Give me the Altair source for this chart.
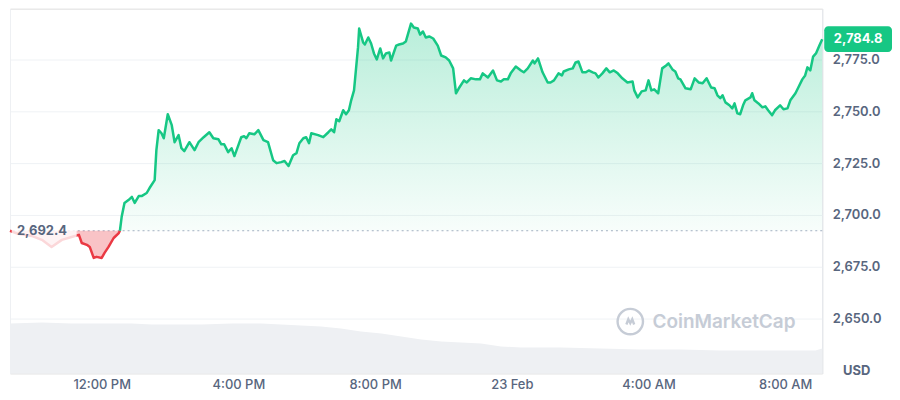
import altair as alt
import pandas as pd

# ---- data (ETH price, 22-23 Feb) ----
times = [
    "22T09:19", "22T09:33", "22T09:57", "22T10:15", "22T10:32", "22T10:50", "22T11:07", "22T11:20",
    "22T11:25", "22T11:34", "22T11:39", "22T11:46", "22T11:51", "22T12:00", "22T12:05", "22T12:12",
    "22T12:21", "22T12:30", "22T12:32",
    "22T12:35", "22T12:40", "22T12:47", "22T12:53", "22T12:58", "22T13:05", "22T13:10", "22T13:19",
    "22T13:24", "22T13:33", "22T13:36", "22T13:40", "22T13:45", "22T13:49", "22T13:56", "22T14:03",
    "22T14:08", "22T14:15", "22T14:20", "22T14:25", "22T14:34", "22T14:43", "22T14:50", "22T14:59",
    "22T15:09", "22T15:16", "22T15:25", "22T15:30", "22T15:35", "22T15:42", "22T15:48", "22T15:53",
    "22T16:00", "22T16:05", "22T16:10", "22T16:14", "22T16:19", "22T16:28", "22T16:35", "22T16:44",
    "22T16:52", "22T17:01", "22T17:07", "22T17:15", "22T17:21", "22T17:28", "22T17:36", "22T17:42",
    "22T17:47", "22T17:54", "22T17:59", "22T18:04", "22T18:08", "22T18:20", "22T18:29", "22T18:38",
    "22T18:43", "22T18:48", "22T18:52", "22T18:57", "22T19:04", "22T19:09", "22T19:14", "22T19:18",
    "22T19:23", "22T19:30", "22T19:32", "22T19:39", "22T19:42", "22T19:48", "22T19:53", "22T19:58",
    "22T20:03", "22T20:09", "22T20:14", "22T20:19", "22T20:25", "22T20:28", "22T20:37", "22T20:42",
    "22T20:49", "22T20:54", "22T21:03", "22T21:08", "22T21:15", "22T21:19", "22T21:24", "22T21:29",
    "22T21:35", "22T21:42", "22T21:50", "22T21:56", "22T22:04", "22T22:10", "22T22:17", "22T22:22",
    "22T22:27", "22T22:36", "22T22:41", "22T22:48", "22T22:57", "22T23:04", "22T23:09", "22T23:18",
    "22T23:27", "22T23:34", "22T23:41", "22T23:46", "22T23:53", "22T23:58",
    "23T00:07", "23T00:16", "23T00:21", "23T00:28", "23T00:37", "23T00:40", "23T00:46", "23T00:54",
    "23T01:03", "23T01:08", "23T01:14", "23T01:22", "23T01:28", "23T01:31", "23T01:40", "23T01:47",
    "23T01:52", "23T01:57", "23T02:04", "23T02:10", "23T02:15", "23T02:22", "23T02:27", "23T02:32",
    "23T02:39", "23T02:46", "23T02:52", "23T02:59", "23T03:06", "23T03:14", "23T03:23", "23T03:32",
    "23T03:35", "23T03:41", "23T03:48", "23T03:55", "23T04:00", "23T04:05", "23T04:10", "23T04:17",
    "23T04:24", "23T04:31", "23T04:35", "23T04:42", "23T04:47", "23T04:52", "23T04:56", "23T05:05",
    "23T05:14", "23T05:21", "23T05:28", "23T05:35", "23T05:42", "23T05:50", "23T05:56", "23T06:01",
    "23T06:06", "23T06:10", "23T06:15", "23T06:22", "23T06:27", "23T06:31", "23T06:36", "23T06:41",
    "23T06:46", "23T06:50", "23T06:59", "23T07:02", "23T07:06", "23T07:13", "23T07:20", "23T07:25",
    "23T07:30", "23T07:37", "23T07:42", "23T07:51", "23T07:57", "23T08:04", "23T08:09", "23T08:18",
    "23T08:23", "23T08:30", "23T08:35", "23T08:39", "23T08:44", "23T08:49", "23T08:54", "23T09:00",
    "23T09:05",
]
prices = [
    2692.4, 2690.9, 2689.9, 2688.0, 2684.6, 2688.0, 2689.4, 2690.4,
    2686.5, 2685.6, 2684.6, 2679.3, 2679.8, 2679.3, 2681.7, 2684.6,
    2688.9, 2691.3, 2692.4,
    2699.0, 2705.8, 2707.2, 2708.7, 2705.8, 2709.1, 2709.1, 2710.6,
    2713.0, 2716.8, 2731.3, 2740.9, 2739.4, 2737.0, 2748.6, 2743.3,
    2735.1, 2738.5, 2732.2, 2730.8, 2735.1, 2731.3, 2735.1, 2737.5,
    2739.9, 2737.0, 2736.5, 2734.1, 2734.1, 2730.3, 2732.2, 2728.4,
    2733.7, 2737.5, 2738.0, 2737.0, 2739.4, 2738.9, 2740.9, 2736.1,
    2735.1, 2726.4, 2725.0, 2725.5, 2726.0, 2723.6, 2728.8, 2729.8,
    2734.6, 2737.0, 2737.5, 2734.6, 2739.4, 2738.5, 2737.5, 2739.9,
    2741.3, 2739.9, 2746.2, 2745.2, 2750.5, 2748.6, 2750.5, 2755.3,
    2760.1, 2780.8, 2789.9, 2783.2, 2782.2, 2785.6, 2782.7, 2777.9,
    2775.0, 2780.3, 2775.5, 2777.9, 2778.4, 2774.5, 2781.7, 2782.2,
    2782.7, 2783.7, 2792.3, 2790.4, 2789.9, 2787.0, 2788.5, 2785.6,
    2786.1, 2785.1, 2781.7, 2776.9, 2776.0, 2774.5, 2770.7, 2758.7,
    2761.1, 2764.9, 2763.9, 2765.9, 2765.4, 2765.4, 2768.3, 2766.3,
    2769.7, 2764.9, 2764.4, 2765.4, 2765.4, 2768.3,
    2771.6, 2769.7, 2768.8, 2770.7, 2774.5, 2773.1, 2775.5, 2768.8,
    2763.9, 2763.9, 2764.9, 2768.3, 2767.3, 2769.2, 2770.2, 2770.7,
    2773.6, 2774.0, 2768.8, 2768.8, 2769.7, 2768.8, 2768.3, 2766.3,
    2768.3, 2770.7, 2768.8, 2769.7, 2768.3, 2765.9, 2763.9, 2764.4,
    2760.1, 2756.7, 2759.6, 2760.1, 2764.9, 2760.1, 2760.6, 2758.7,
    2770.7, 2772.1, 2773.1, 2770.2, 2769.2, 2765.9, 2765.4, 2761.1,
    2760.6, 2765.9, 2763.9, 2763.5, 2765.9, 2761.5, 2761.1, 2757.7,
    2756.3, 2757.7, 2754.3, 2752.9, 2751.4, 2753.8, 2749.0, 2748.6,
    2752.9, 2755.3, 2756.7, 2758.7, 2755.3, 2753.8, 2751.9, 2752.4,
    2750.5, 2748.1, 2750.5, 2752.9, 2751.0, 2751.4, 2755.3, 2758.7,
    2761.5, 2765.4, 2767.3, 2771.2, 2769.7, 2776.4, 2777.9, 2781.7,
    2784.8,
]
open_price = 2692.4
cross_time = "22T12:32"

vol_times = [
    "22T09:19", "22T10:15", "22T11:07", "22T12:00", "22T12:53", "22T13:28", "22T14:03", "22T14:55",
    "22T15:48", "22T16:40", "22T17:15", "22T17:50", "22T18:25", "22T19:00", "22T19:35", "22T20:11",
    "22T20:46", "22T21:21", "22T21:56", "22T22:31", "22T23:06", "22T23:41", "23T00:16", "23T01:26",
    "23T02:36", "23T03:46", "23T04:56", "23T06:06", "23T07:16", "23T08:26", "23T08:53", "23T09:05",
]
vol_values = [
    25.0, 25.5, 25.0, 25.0, 25.0, 24.5, 24.5, 24.5,
    25.0, 25.0, 24.5, 24.0, 23.5, 22.5, 21.0, 20.0,
    18.5, 17.0, 16.0, 15.5, 15.0, 13.5, 13.0, 13.0,
    12.5, 12.0, 12.0, 11.5, 11.5, 11.5, 11.5, 12.5,
]

y_ticks = [2650, 2675, 2700, 2725, 2750, 2775]

# ---- tables ----
ci = times.index(cross_time)
rows = []
for i, (t, p) in enumerate(zip(times, prices)):
    ts = "2025-02-" + t
    if i <= ci:
        rows.append({"t": ts, "price": p, "seg": "down"})
    if i >= ci:
        rows.append({"t": ts, "price": p, "seg": "up"})
df = pd.DataFrame(rows)
vdf = pd.DataFrame({"t": ["2025-02-" + t for t in vol_times], "v": vol_values})

last_df = pd.DataFrame({"t": ["2025-02-" + times[-1]], "price": [prices[-1]],
                        "label": [f"{prices[-1]:,.1f}"]})
open_df = pd.DataFrame({"t": ["2025-02-" + times[0]], "price": [open_price],
                        "label": [f"{open_price:,.1f}"]})
box_df = pd.DataFrame({"t": ["2025-02-22T09:22"], "t2": ["2025-02-22T11:16"],
                       "price": [2696.6], "price2": [2683.6]})
wm_df = pd.DataFrame({"t": ["2025-02-23T04:07"], "price": [2648.6], "label": ["CoinMarketCap"]})
logo_df = pd.DataFrame({"t": ["2025-02-23T03:28"], "price": [2648.6]})

GREEN = "#16c784"
RED = "#ea3943"
GREY_TXT = "#58667e"
FONT = "Inter"

x_scale = alt.Scale(domain=[alt.DateTime(year=2025, month=2, date=22, hours=9, minutes=19),
                            alt.DateTime(year=2025, month=2, date=23, hours=9, minutes=5)])
x_axis = alt.Axis(
    values=[alt.DateTime(year=2025, month=2, date=22, hours=12),
            alt.DateTime(year=2025, month=2, date=22, hours=16),
            alt.DateTime(year=2025, month=2, date=22, hours=20),
            alt.DateTime(year=2025, month=2, date=23, hours=0),
            alt.DateTime(year=2025, month=2, date=23, hours=4),
            alt.DateTime(year=2025, month=2, date=23, hours=8)],
    labelExpr="hours(datum.value) == 0 ? timeFormat(datum.value, '%-d %b') : timeFormat(datum.value, '%-I:%M %p')",
    grid=False, domain=False, ticks=False, labelPadding=5, labelFontSize=13,
    labelColor=GREY_TXT, labelFont=FONT, labelFontWeight=500, labelOverlap=False,
    labelFlush=False, title=None,
)


def X():
    return alt.X("t:T", scale=x_scale, axis=x_axis)


y_scale = alt.Scale(domain=[2623.6, 2799.5], nice=False, zero=False)
y_axis = alt.Axis(
    orient="right", values=y_ticks, format=",.1f", grid=True, gridColor="#eff2f5",
    domain=True, domainColor="#e6e9ee", ticks=False, labelPadding=10, labelFontSize=13,
    labelFontWeight=600, labelColor=GREY_TXT, labelFont=FONT,
    title="USD", titleAngle=0, titleX=34, titleY=363, titleAlign="center",
    titleBaseline="middle", titleFontSize=13, titleColor=GREY_TXT, titleFontWeight=700,
    titleFont=FONT,
)


def Y():
    return alt.Y("price:Q", scale=y_scale, axis=y_axis)


# ---- layers ----
volume = alt.Chart(vdf).mark_area(color="#eef0f3").encode(
    x=X(),
    y=alt.Y("v:Q", scale=alt.Scale(domain=[0, 183], nice=False),
            axis=alt.Axis(orient="left", labels=False, ticks=False, grid=False,
                          domain=True, domainColor="#eef0f3", title=None)),
)

base_rule = alt.Chart(open_df).mark_rule(color="#a6b0c3", strokeDash=[2, 3], strokeWidth=1).encode(
    y=Y(),
)

red_area = alt.Chart(df).transform_filter(alt.datum.seg == "down").mark_area(
    color=RED, opacity=0.3).encode(x=X(), y=Y(), y2=alt.datum(open_price))

green_area = alt.Chart(df).transform_filter(alt.datum.seg == "up").mark_area(
    color=alt.Gradient(gradient="linear",
                       stops=[alt.GradientStop(color="rgba(22,199,132,0.30)", offset=0),
                              alt.GradientStop(color="rgba(22,199,132,0.03)", offset=1)],
                       x1=0, x2=0, y1=0, y2=1)
).encode(x=X(), y=Y(), y2=alt.datum(open_price))

line = alt.Chart(df).mark_line(strokeWidth=2.5, strokeJoin="round").encode(
    x=X(), y=Y(),
    color=alt.Color("seg:N", scale=alt.Scale(domain=["down", "up"], range=[RED, GREEN]), legend=None),
    detail="seg:N",
)

label_box = alt.Chart(box_df).mark_rect(color="white", opacity=0.8).encode(
    x=X(), x2="t2:T", y=Y(), y2="price2:Q")

open_label = alt.Chart(open_df).mark_text(
    align="left", baseline="middle", dx=7, fontSize=13, fontWeight=700, color=GREY_TXT, font=FONT
).encode(x=X(), y=Y(), text="label:N")

tag_box = alt.Chart(last_df).mark_rect(
    color=GREEN, cornerRadius=4, xOffset=2, x2Offset=70, yOffset=-13, y2Offset=13
).encode(x=X(), x2="t:T", y=Y(), y2="price:Q")

tag_text = alt.Chart(last_df).mark_text(
    align="center", baseline="middle", dx=36, fontSize=13, fontWeight=700, color="white", font=FONT
).encode(x=X(), y=Y(), text="label:N")

wm_text = alt.Chart(wm_df).mark_text(
    align="left", baseline="middle", fontSize=19, fontWeight=600, color="#c6ccd6", font=FONT
).encode(x=X(), y=Y(), text="label:N")

logo_ring = alt.Chart(logo_df).mark_point(
    shape="circle", filled=False, size=650, strokeWidth=2.4, color="#c6ccd6", opacity=1
).encode(x=X(), y=Y())

logo_wave = alt.Chart(logo_df).mark_point(
    shape="M-0.6,0.45 L-0.3,-0.35 L0,0.25 L0.3,-0.35 L0.6,0.45",
    filled=False, size=170, strokeWidth=2.4, color="#c6ccd6", opacity=1
).encode(x=X(), y=Y())

price_layers = alt.layer(
    base_rule, red_area, green_area, line, label_box, open_label,
    tag_box, tag_text, wm_text, logo_ring, logo_wave,
)

chart = alt.layer(volume, price_layers).resolve_scale(y="independent").properties(
    width=815, height=366, padding={"left": 0, "top": 0, "right": 0, "bottom": 0},
    background="white",
).configure_view(stroke=None).configure(font=FONT)

chart.save("out.html", embed_options={"renderer": "svg", "actions": False})
